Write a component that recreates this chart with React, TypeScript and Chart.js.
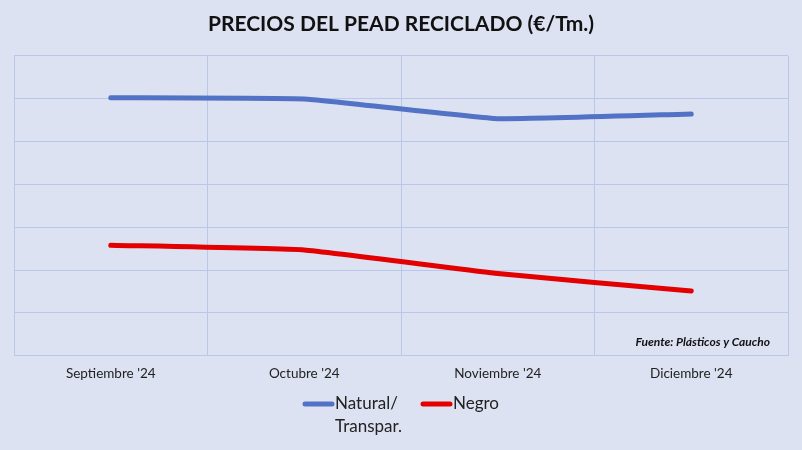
import React, { useEffect, useRef } from 'react';
import Chart from 'chart.js/auto';

const months = ["Septiembre '24", "Octubre '24", "Noviembre '24", "Diciembre '24"];
const naturalPrices = [1204, 1198, 1106, 1128];
const negroPrices = [516, 494, 384, 302];
const seriesLabels = [['Natural/', 'Transpar.'], ['Negro']];
const yTicks = { min: 0, max: 1400, step: 200 };

const FONT = 'Lato, "Open Sans", sans-serif';
const BG = '#dde2f3';
const GRID = '#b9c8ea';

// legend + source note drawn by hand (legend needs a wrapped label)
const extras = {
    id: 'extras',
    afterDraw(chart: any) {
        const ctx = chart.ctx;
        const area = chart.chartArea;
        ctx.save();
        ctx.font = `bold italic 12px ${FONT}`;
        ctx.fillStyle = '#111';
        ctx.textAlign = 'right';
        ctx.textBaseline = 'middle';
        ctx.fillText('Fuente: Plásticos y Caucho', area.right - 18, area.bottom - 14);

        const starts = [305, 423];
        ctx.font = `17px ${FONT}`;
        ctx.textAlign = 'left';
        chart.data.datasets.forEach((ds: any, i: number) => {
            const x = starts[i];
            const y = 404;
            ctx.strokeStyle = ds.borderColor;
            ctx.lineWidth = 5;
            ctx.lineCap = 'round';
            ctx.beginPath();
            ctx.moveTo(x, y);
            ctx.lineTo(x + 27, y);
            ctx.stroke();
            ctx.fillStyle = '#222';
            seriesLabels[i].forEach((line, j) => ctx.fillText(line, x + 30, y + j * 23));
        });
        ctx.restore();
    },
};

export default function App() {
    const chartRef = useRef<HTMLCanvasElement | null>(null);
    const chartInstance = useRef<Chart | null>(null);

    useEffect(() => {
        document.body.style.margin = '0';
        if (!chartRef.current) return;
        if (chartInstance.current) chartInstance.current.destroy();

        chartInstance.current = new Chart(chartRef.current, {
            type: 'line',
            data: {
                labels: months,
                datasets: [
                    {
                        label: seriesLabels[0].join(' '),
                        data: naturalPrices,
                        borderColor: '#5272c6',
                        borderWidth: 5,
                        pointRadius: 0,
                        borderCapStyle: 'round',
                        tension: 0.1,
                    },
                    {
                        label: seriesLabels[1].join(' '),
                        data: negroPrices,
                        borderColor: '#e30000',
                        borderWidth: 5,
                        pointRadius: 0,
                        borderCapStyle: 'round',
                        tension: 0.1,
                    },
                ],
            },
            options: {
                animation: false,
                responsive: true,
                maintainAspectRatio: false,
                layout: { padding: { left: 14, right: 14, top: 0, bottom: 58 } },
                scales: {
                    x: {
                        offset: true,
                        grid: { color: GRID, offset: true, drawTicks: false },
                        border: { color: GRID },
                        ticks: { color: '#222', font: { family: FONT, size: 13.5 }, padding: 10 },
                    },
                    y: {
                        min: yTicks.min,
                        max: yTicks.max,
                        grid: { color: GRID, drawTicks: false },
                        border: { display: false },
                        ticks: { display: false, stepSize: yTicks.step },
                    },
                },
                plugins: {
                    legend: { display: false },
                    tooltip: { enabled: false },
                    title: {
                        display: true,
                        text: 'PRECIOS DEL PEAD RECICLADO (€/Tm.)',
                        color: '#111',
                        font: { family: FONT, size: 21, weight: 'bold' },
                        padding: { top: 12, bottom: 18.5 },
                    },
                },
            },
            plugins: [extras],
        });

        return () => {
            if (chartInstance.current) {
                chartInstance.current.destroy();
                chartInstance.current = null;
            }
        };
    }, []);

    return (
        <div style={{ width: 802, height: 450, background: BG }}>
            <canvas ref={chartRef}></canvas>
        </div>
    );
}
